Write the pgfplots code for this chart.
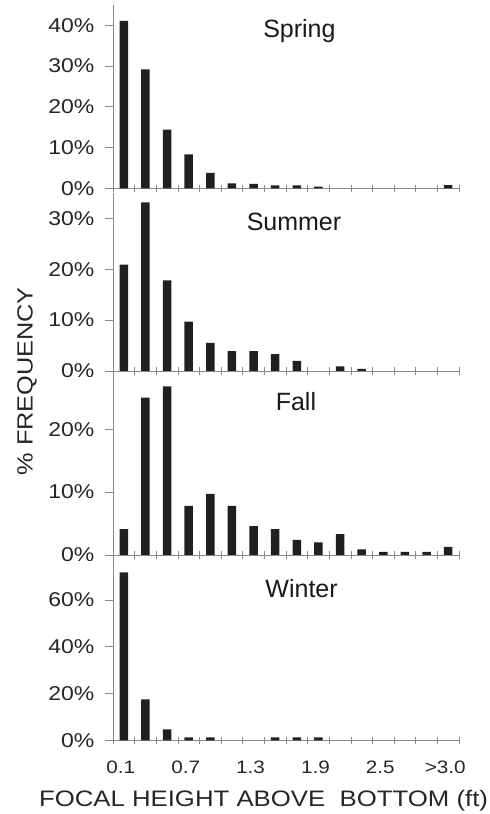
\documentclass[border=0pt]{standalone}
\usepackage{pgfplots}
\pgfplotsset{compat=1.18}
\usepackage{fontspec}
\setmainfont{Liberation Sans}
\newfontfamily\widefont{Liberation Sans}[FakeStretch=1.15]
\newcommand\xtl[1]{{\widefont\fontsize{18}{18}\selectfont #1}}
\newcommand\ytl[1]{{\widefont\fontsize{20}{20}\selectfont #1}}

\definecolor{barfill}{HTML}{231F20}
\definecolor{axisgray}{HTML}{8A8A8A}

\tikzset{seasonlabel/.style={font=\fontsize{25}{25}\selectfont, text=black!90, anchor=base}}

\pgfplotsset{
  panel/.style={
    scale only axis, width=346pt,
    xmin=-0.5, xmax=15.5, ymin=0,
    axis x line*=bottom, axis y line*=left,
    axis line style={axisgray, line width=0.6pt},
    tick style={axisgray, line width=0.6pt},
    major tick length=7.5pt,
    xtick align=center, ytick align=outside,
    xtick={-0.5,0.5,...,15.5}, xticklabels={},
    every tick label/.append style={text=black!85},
    yticklabel style={anchor=east, inner sep=0pt, xshift=-11pt},
    clip=false,
  },
  bars/.style={ybar, bar width=8.6pt, bar shift=0pt, fill=barfill, draw=none},
}

\begin{document}
\begin{tikzpicture}[x=1pt, y=1pt]

% Spring
\begin{axis}[panel, at={(113pt,625.7pt)}, anchor=south west,
  height=183.4pt, ymax=45,
  ytick={0,10,20,30,40}, yticklabels={\ytl{0\%},\ytl{10\%},\ytl{20\%},\ytl{30\%},\ytl{40\%}}]
\addplot[bars] coordinates {(0,41.1) (1,29.2) (2,14.4) (3,8.3) (4,3.8) (5,1.2)
  (6,1.1) (7,0.7) (8,0.7) (9,0.4) (15,0.8)};
\node[seasonlabel] at (axis cs:8.12,37.0) {Spring};
\end{axis}

% Summer
\begin{axis}[panel, at={(113pt,443pt)}, anchor=south west,
  height=178.2pt, ymax=35,
  ytick={0,10,20,30}, yticklabels={\ytl{0\%},\ytl{10\%},\ytl{20\%},\ytl{30\%}}]
\addplot[bars] coordinates {(0,20.9) (1,33.1) (2,17.8) (3,9.7) (4,5.5) (5,3.9)
  (6,3.9) (7,3.3) (8,2.0) (10,0.9) (11,0.4)};
\node[seasonlabel] at (axis cs:7.87,27.6) {Summer};
\end{axis}

% Fall
\begin{axis}[panel, at={(113pt,259pt)}, anchor=south west,
  height=184.3pt, ymax=29.3,
  ytick={0,10,20}, yticklabels={\ytl{0\%},\ytl{10\%},\ytl{20\%}}]
\addplot[bars] coordinates {(0,4.1) (1,25.0) (2,26.8) (3,7.8) (4,9.7) (5,7.8)
  (6,4.6) (7,4.1) (8,2.4) (9,2.0) (10,3.3) (11,0.9) (12,0.5) (13,0.5) (14,0.5) (15,1.3)};
\node[seasonlabel] at (axis cs:7.96,23.05) {Fall};
\end{axis}

% Winter
\begin{axis}[panel, at={(113pt,73.7pt)}, anchor=south west,
  height=182.5pt, ymax=78,
  ytick={0,20,40,60}, yticklabels={\ytl{0\%},\ytl{20\%},\ytl{40\%},\ytl{60\%}},
  extra x ticks={0,3,6,9,12,15},
  extra x tick labels={\xtl{0.1},\xtl{0.7},\xtl{1.3},\xtl{1.9},\xtl{2.5},\xtl{>3.0}},
  extra x tick style={major tick length=0pt, tick style={draw=none},
    xticklabel style={text=black!85, yshift=-17pt, xshift=-3pt}}]
\addplot[bars] coordinates {(0,71.8) (1,17.5) (2,4.7) (3,1.3) (4,1.3)
  (7,1.3) (8,1.3) (9,1.3)};
\node[seasonlabel] at (axis cs:8.22,61.1) {Winter};
\end{axis}

% axis titles
\node[anchor=base, font=\widefont\fontsize{22.4}{22.4}\selectfont, text=black!85]
  at (263.5pt,8pt) {FOCAL HEIGHT ABOVE\ \ BOTTOM (ft)};
\node[anchor=base, rotate=90, font=\widefont\fontsize{22}{22}\selectfont, text=black!85]
  at (32.7pt,432.7pt) {\% FREQUENCY};

\pgfresetboundingbox
\path[use as bounding box] (0,0) rectangle (490pt,814pt);
\end{tikzpicture}
\end{document}
